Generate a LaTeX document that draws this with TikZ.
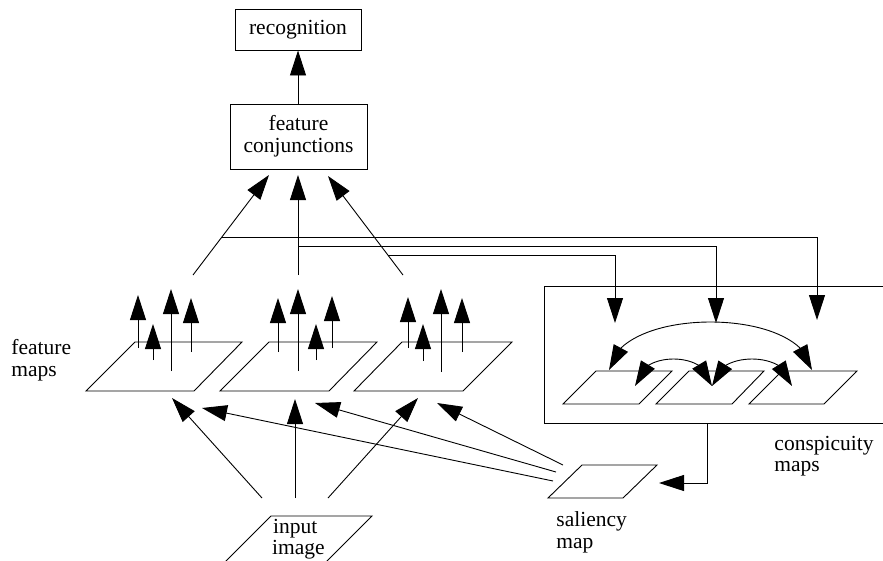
\documentclass[tikz,border=0pt]{standalone}
\usepackage{fontspec}
\setmainfont{Liberation Serif}
\usetikzlibrary{arrows.meta,calc,bending}
\begin{document}
\begin{tikzpicture}[x=1pt,y=-1pt, line width=0.9pt,
  arr/.style={-{Triangle[length=25pt,width=16pt]}},
  darr/.style={{Triangle[length=25pt,width=16pt]}-{Triangle[length=25pt,width=16pt]}},
  lbl/.style={font=\fontsize{21.5}{21.7}\selectfont, inner sep=0pt, anchor=base west},
  boxn/.style={draw, font=\fontsize{21.5}{21.7}\selectfont, align=center, inner sep=0pt},
  map/.style={draw, line join=miter}
]
\useasboundingbox (0,0) rectangle (883,560);
\clip (0,0) rectangle (883,560);

% top boxes
\node[boxn, minimum width=126pt, minimum height=41pt] (rec) at (298,29.5) {recognition};
\node[boxn, minimum width=137pt, minimum height=65pt] (fc) at (298.5,136.5) {feature\\conjunctions};
\draw[arr] (fc.north -| rec.south) -- (rec.south);

% inputs to feature conjunctions
\coordinate (in1) at (193,275);
\coordinate (in2) at (298,275);
\coordinate (in3) at (403,275);
\coordinate (fcL) at (269,175);
\coordinate (fcM) at (298,175);
\coordinate (fcR) at (328,176);
\draw[arr] (in1) -- (fcL);
\draw[arr] (in2) -- (fcM);
\draw[arr] (in3) -- (fcR);

% branches to conspicuity maps
\coordinate (b1) at (222,237);
\coordinate (b2) at (298,246);
\coordinate (b3) at (388,255);
\coordinate (c1top) at (615,323);
\coordinate (c2top) at (716,323);
\coordinate (c3top) at (817,320);
\draw[arr] (b1) -| (c3top);
\draw[arr] (b2) -| (c2top);
\draw[arr] (b3) -| (c1top);

% feature maps
\draw[map] (86,391) coordinate (fm1) -- (194,391) -- (242,342) -- (135,342) -- cycle;
\draw[map] (220,391) coordinate (fm2) -- (329,391) -- (377,342) -- (269,342) -- cycle;
\draw[map] (354,391) coordinate (fm3) -- (463,391) -- (512,342) -- (402,342) -- cycle;

% arrows on feature maps
\foreach \x/\a/\b [count=\i] in {138/348/295, 153/360/324, 171/371/289, 191/352/298,
                                  278/352/298, 298/371/289, 316/360/324, 332/348/296,
                                  408/348/297, 423/361/324, 441/372/289, 462/352/298}{
  \coordinate (fa\i) at (\x,\a);
  \coordinate (fb\i) at (\x,\b);
  \draw[arr] (fa\i) -- (fb\i);
}

% labels
\node[lbl] (fml1) at (11,354) {feature};
\node[lbl] (fml2) at (11,376.5) {maps};

% input image
\draw[map] (223,564) coordinate (img) -- (324,564) -- (372,516) -- (271,516) -- cycle;
\node[lbl] (inl1) at (272.7,533) {input};
\node[lbl] (inl2) at (271.7,554) {image};

\coordinate (i1) at (262,498);
\coordinate (i2) at (295,498);
\coordinate (i3) at (328,498);
\coordinate (f1i) at (172,398);
\coordinate (f2i) at (295,399);
\coordinate (f3i) at (418,398);
\draw[arr] (i1) -- (f1i);
\draw[arr] (i2) -- (f2i);
\draw[arr] (i3) -- (f3i);

% saliency map
\draw[map] (548,498) coordinate (sal) -- (623,498) -- (657,465) -- (582,465) -- cycle;
\node[lbl] (sl1) at (556,526.5) {saliency};
\node[lbl] (sl2) at (556,548) {map};

\coordinate (s1) at (553,481);
\coordinate (s2) at (556,472);
\coordinate (s3) at (563,465);
\coordinate (f1s) at (202,408);
\coordinate (f2s) at (315,403);
\coordinate (f3s) at (437,403);
\draw[arr] (s1) -- (f1s);
\draw[arr] (s2) -- (f2s);
\draw[arr] (s3) -- (f3s);

% conspicuity box
\node[draw, anchor=north west, minimum width=380pt, minimum height=137pt, inner sep=0pt] (cbox) at (544,286) {};
\coordinate (cout) at (707,423);
\coordinate (salin) at (659,483);
\draw[arr] (cout) |- (salin);

\node[lbl] (cl1) at (774,450) {conspicuity};
\node[lbl] (cl2) at (774,471.7) {maps};

% conspicuity maps
\draw[map] (563,404) coordinate (cmA) -- (639,404) -- (672,371) -- (596,371) -- cycle;
\draw[map] (656,404) coordinate (cmB) -- (732,404) -- (764,371) -- (689,371) -- cycle;
\draw[map] (749,404) coordinate (cmC) -- (824,404) -- (857,371) -- (782,371) -- cycle;

\coordinate (arcL) at (609,370);
\coordinate (arcR) at (812,370);
\coordinate (sa1) at (635,386);
\coordinate (sa2) at (712,386);
\coordinate (sa3) at (792,386);
\draw[darr] (arcL) .. controls (618,306) and (803,306) .. (arcR);
\draw[darr] (sa1) .. controls (637,350) and (710,350) .. (sa2);
\draw[darr] (sa2) .. controls (714,350) and (790,350) .. (sa3);
\end{tikzpicture}
\end{document}
